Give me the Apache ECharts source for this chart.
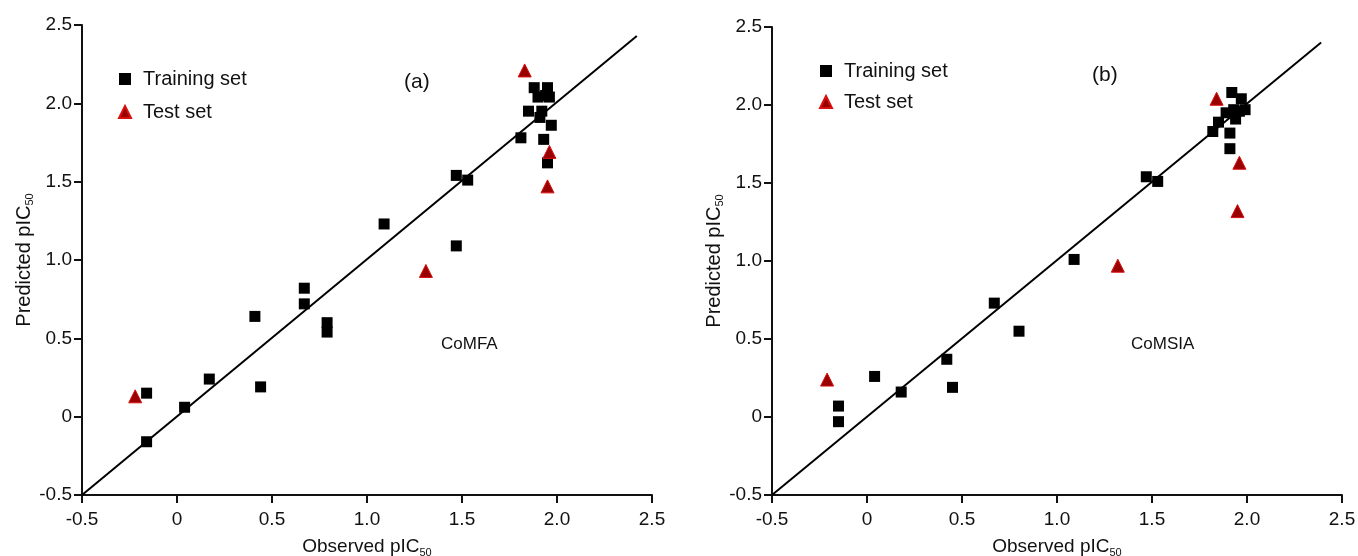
<!DOCTYPE html>
<html lang="en">
<head>
    <meta charset="UTF-8">
    <title>CoMFA / CoMSIA</title>
    <script src="https://cdn.jsdelivr.net/npm/echarts@6/dist/echarts.min.js"></script>
</head>
<body style="margin:0;background:#fff">
<div id="chart" style="width:1358px;height:556px;"></div>
<script>
    // ticks shared by both panels
    let axisMin = -0.5;
    let axisMax = 2.5;
    let tickStep = 0.5;

    // (a) CoMFA, [observed, predicted]
    let trainA = [[-0.16, 0.15], [-0.16, -0.16], [0.04, 0.06], [0.17, 0.24], [0.41, 0.64], [0.44, 0.19],
        [0.67, 0.82], [0.67, 0.72], [0.79, 0.60], [0.79, 0.54], [1.09, 1.23], [1.47, 1.09], [1.47, 1.54],
        [1.53, 1.51], [1.81, 1.78], [1.88, 2.10], [1.95, 2.10], [1.90, 2.04], [1.94, 2.05], [1.96, 2.04],
        [1.85, 1.95], [1.91, 1.91], [1.92, 1.95], [1.97, 1.86], [1.93, 1.77], [1.95, 1.62]];
    let testA = [[-0.22, 0.13], [1.31, 0.93], [1.83, 2.21], [1.96, 1.69], [1.95, 1.47]];
    let fitA = [[-0.5, -0.5], [2.42, 2.43]];

    // (b) CoMSIA
    let trainB = [[-0.15, 0.07], [-0.15, -0.03], [0.04, 0.26], [0.18, 0.16], [0.42, 0.37], [0.45, 0.19],
        [0.67, 0.73], [0.80, 0.55], [1.09, 1.01], [1.47, 1.54], [1.53, 1.51], [1.92, 2.08], [1.97, 2.04],
        [1.89, 1.95], [1.93, 1.97], [1.96, 1.96], [1.99, 1.97], [1.85, 1.89], [1.82, 1.83], [1.91, 1.82],
        [1.94, 1.91], [1.91, 1.72]];
    let testB = [[-0.21, 0.24], [1.32, 0.97], [1.84, 2.04], [1.96, 1.63], [1.95, 1.32]];
    let fitB = [[-0.5, -0.5], [2.39, 2.4]];

    let font = 'Liberation Sans, Arial, sans-serif';

    function fmt(v) {
        return v === 0 ? '0' : v.toFixed(1);
    }

    function nameStyle(size) {
        return {
            rich: {
                a: {fontFamily: font, fontSize: size, color: '#111'},
                b: {fontFamily: font, fontSize: 11, color: '#111', padding: [11, 0, 0, 0]}
            }
        };
    }

    function xAx(idx) {
        return {
            gridIndex: idx, type: 'value', min: axisMin, max: axisMax, interval: tickStep,
            name: '{a|Observed pIC}{b|50}', nameLocation: 'middle', nameGap: 41,
            nameTextStyle: nameStyle(19),
            axisLine: {onZero: false, lineStyle: {color: '#111', width: 2}},
            axisTick: {length: 8, lineStyle: {color: '#111', width: 2}},
            axisLabel: {formatter: fmt, fontFamily: font, fontSize: 19, color: '#111', margin: 15},
            splitLine: {show: false}
        };
    }

    function yAx(idx) {
        return {
            gridIndex: idx, type: 'value', min: axisMin, max: axisMax, interval: tickStep,
            name: '{a|Predicted pIC}{b|50}', nameLocation: 'middle', nameGap: 45,
            nameTextStyle: nameStyle(20),
            axisLine: {onZero: false, lineStyle: {color: '#111', width: 2}},
            axisTick: {length: 8, lineStyle: {color: '#111', width: 2}},
            axisLabel: {formatter: fmt, fontFamily: font, fontSize: 19, color: '#111', margin: 10},
            splitLine: {show: false}
        };
    }

    function fitLine(idx, d) {
        return {
            type: 'line', xAxisIndex: idx, yAxisIndex: idx, data: d, symbol: 'none', silent: true,
            lineStyle: {color: '#000', width: 2}, z: 1
        };
    }

    function train(idx, d) {
        return {
            name: 'Training set', type: 'scatter', xAxisIndex: idx, yAxisIndex: idx, data: d,
            symbol: 'rect', symbolSize: 11, itemStyle: {color: '#000', opacity: 1}, z: 3
        };
    }

    function test(idx, d) {
        return {
            name: 'Test set', type: 'scatter', xAxisIndex: idx, yAxisIndex: idx, data: d,
            symbol: 'triangle', symbolSize: 13,
            itemStyle: {color: '#9a0000', borderColor: '#d81010', borderWidth: 1, opacity: 1}, z: 3
        };
    }

    function legend(left, top, gap) {
        return {
            orient: 'vertical', left: left, top: top, itemGap: gap, itemWidth: 12, itemHeight: 12,
            data: ['Training set', 'Test set'],
            textStyle: {fontFamily: font, fontSize: 20, color: '#111', padding: [0, 0, 0, 7]}
        };
    }

    let myChart = echarts.init(document.getElementById('chart'));
    let option = {
        animation: false,
        backgroundColor: '#fff',
        grid: [
            {left: 82, top: 25, width: 570, height: 470, outerBoundsMode: 'none', containLabel: false},
            {left: 772, top: 27, width: 570, height: 468, outerBoundsMode: 'none', containLabel: false}
        ],
        xAxis: [xAx(0), xAx(1)],
        yAxis: [yAx(0), yAx(1)],
        legend: [legend(113, 64, 13), legend(814, 56, 11)],
        graphic: [
            {type: 'text', left: 404, top: 72, style: {text: '(a)', font: '21px ' + font, fill: '#111'}},
            {type: 'text', left: 441, top: 336, style: {text: 'CoMFA', font: '17px ' + font, fill: '#111'}},
            {type: 'text', left: 1092, top: 65, style: {text: '(b)', font: '21px ' + font, fill: '#111'}},
            {type: 'text', left: 1131, top: 336, style: {text: 'CoMSIA', font: '17px ' + font, fill: '#111'}}
        ],
        series: [
            fitLine(0, fitA), train(0, trainA), test(0, testA),
            fitLine(1, fitB), train(1, trainB), test(1, testB)
        ]
    };
    myChart.setOption(option);
</script>
</body>
</html>
